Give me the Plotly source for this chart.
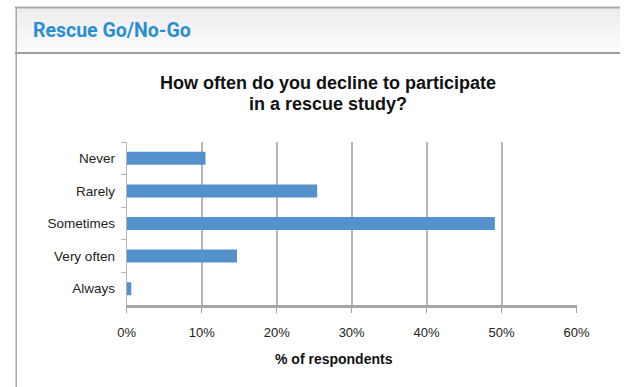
import plotly.graph_objects as go

categories = ["Never", "Rarely", "Sometimes", "Very often", "Always"]
values = [10.5, 25.4, 49.1, 14.7, 0.6]
tick_vals = [0, 10, 20, 30, 40, 50, 60]
tick_text = ["0%", "10%", "20%", "30%", "40%", "50%", "60%"]
header_text = "Rescue Go/No-Go"
title_lines = ["How often do you decline to participate", "in a rescue study?"]
x_title = "% of respondents"

W, H = 633, 387


def px(x):
    return x / W


def py(y):
    return 1 - y / H


fig = go.Figure()
fig.add_trace(go.Bar(
    x=values, y=categories, orientation="h",
    marker=dict(color="#5591cd", line=dict(width=0)),
    hoverinfo="x+y",
))

shapes = []
# header band (simulated gradient)
n = 8
for i in range(n):
    y0 = 8 + i * (45 / n)
    y1 = 8 + (i + 1) * (45 / n)
    c = int(237 + (252 - 237) * i / (n - 1))
    shapes.append(dict(type="rect", xref="paper", yref="paper",
                       x0=px(7), x1=1, y0=py(y1), y1=py(y0),
                       fillcolor=f"rgb({c},{c},{c})", line=dict(width=0), layer="below"))
shapes.append(dict(type="line", xref="paper", yref="paper",
                   x0=px(6), x1=1, y0=py(7.5), y1=py(7.5),
                   line=dict(color="#a8a8a8", width=2)))
shapes.append(dict(type="line", xref="paper", yref="paper",
                   x0=px(6), x1=1, y0=py(53), y1=py(53),
                   line=dict(color="#a0a0a0", width=2)))
shapes.append(dict(type="line", xref="paper", yref="paper",
                   x0=px(7.5), x1=px(7.5), y0=0, y1=py(7),
                   line=dict(color="#a8a8a8", width=1.5)))

annotations = [
    dict(text=f"<b>{header_text}</b>", x=px(23), y=py(30), xref="paper", yref="paper",
         xanchor="left", yanchor="middle", showarrow=False,
         font=dict(family="Roboto, Liberation Sans, sans-serif", size=19.5, color="#2a8fd2")),
    dict(text=f"<b>{title_lines[0]}</b>",
         x=px(330), y=py(83), xref="paper", yref="paper",
         xanchor="center", yanchor="middle", showarrow=False,
         font=dict(family="Liberation Sans, Arial, sans-serif", size=18, color="#111111")),
    dict(text=f"<b>{title_lines[1]}</b>",
         x=px(330), y=py(104), xref="paper", yref="paper",
         xanchor="center", yanchor="middle", showarrow=False,
         font=dict(family="Liberation Sans, Arial, sans-serif", size=18, color="#111111")),
    dict(text=f"<b>{x_title}</b>", x=px(337), y=py(359), xref="paper", yref="paper",
         xanchor="center", yanchor="middle", showarrow=False,
         font=dict(family="Liberation Sans, Arial, sans-serif", size=14, color="#111111")),
]

fig.update_layout(
    width=W, height=H,
    margin=dict(l=0, r=0, t=0, b=0),
    paper_bgcolor="white", plot_bgcolor="white",
    showlegend=False,
    bargap=0.6,
    shapes=shapes,
    annotations=annotations,
    xaxis=dict(
        domain=[px(122), px(588)],
        range=[0, 60],
        tickvals=tick_vals, ticktext=tick_text,
        showgrid=True, gridcolor="#b5b5b5", gridwidth=1.5,
        zeroline=False,
        showline=True, linecolor="#a6a6a6", linewidth=2.5,
        ticks="outside", ticklen=5, tickcolor="#a6a6a6", tickwidth=1,
        ticklabelstandoff=9,
        tickfont=dict(family="Liberation Sans, Arial, sans-serif", size=13, color="#222222"),
        fixedrange=True,
    ),
    yaxis=dict(
        domain=[py(305), py(142)],
        autorange="reversed",
        showgrid=False, zeroline=False,
        showline=True, linecolor="#b5b5b5", linewidth=1.3,
        ticks="outside", tickson="boundaries", ticklen=5, tickcolor="#b5b5b5",
        ticklabelstandoff=8,
        tickfont=dict(family="Liberation Sans, Arial, sans-serif", size=13.5, color="#222222"),
        fixedrange=True,
    ),
)

fig.write_html(
    "out.html",
    config={"responsive": False, "displayModeBar": False},
    post_script="document.body.style.margin='0';document.body.style.overflow='hidden';",
)
